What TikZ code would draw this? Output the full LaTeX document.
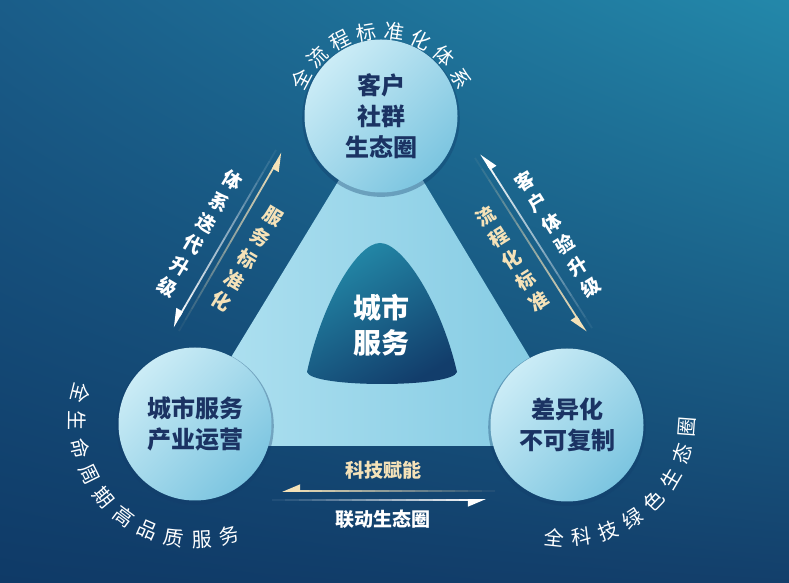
\documentclass[tikz,border=0pt]{standalone}
\usepackage{fontspec}
\setmainfont{Noto Sans CJK SC}
\usepackage{xcolor}
\usepackage{tikz}
\usetikzlibrary{calc,arrows.meta,shadows,shadings}
\definecolor{bgul}{HTML}{1A5D89}
\definecolor{bgur}{HTML}{2388AA}
\definecolor{bgll}{HTML}{0F3A67}
\definecolor{bglr}{HTML}{133F6B}
\definecolor{trilight}{HTML}{B2E2F1}
\definecolor{tridark}{HTML}{80C9E2}
\definecolor{ballhi}{HTML}{CBECF6}
\definecolor{balllo}{HTML}{7CC5E0}
\definecolor{navy}{HTML}{1B3363}
\definecolor{coreteal}{HTML}{2389A8}
\definecolor{corenavy}{HTML}{123D6B}
\definecolor{beige}{HTML}{F5E2B8}
\tikzset{
  ball/.style={circle, minimum size=153pt, inner sep=0pt, shade, top color=ballhi,
    bottom color=balllo, shading angle=45, text=navy, align=center,
    drop shadow={shadow xshift=0pt, shadow yshift=-2pt, shadow scale=1.03, opacity=0.35, fill=corenavy},
    font=\fontsize{24}{31}\selectfont\bfseries},
  core/.style={text=white, align=center, font=\fontsize{28}{35}\selectfont\bfseries},
  side/.style={align=center, inner sep=0pt, font=\fontsize{19}{25}\selectfont\bfseries},
  flat/.style={inner sep=0pt, font=\fontsize{19}{22}\selectfont\bfseries},
  arcch/.style={text=white, inner sep=0pt, font=\fontsize{20}{20}\selectfont}
}
% faded line with a half head at the tip
\newcommand{\glowarrow}[3]{%
  \foreach \i [evaluate=\i as \op using \i/16] in {1,...,15}
    \draw[#3, line width=1.8pt, draw opacity=\op] ($(#1)!{(\i-1)/16}!(#2)$) -- ($(#1)!{\i/16}!(#2)$);
  \draw[#3, line width=1.8pt, -{Triangle[harpoon,swap,length=16pt,width=13pt]}] ($(#1)!{15/16}!(#2)$) -- (#2);
}

\begin{document}
\begin{tikzpicture}[x=1pt,y=1pt]
\useasboundingbox (0,0) rectangle (789,583);
\shade[upper left=bgul, upper right=bgur, lower left=bgll, lower right=bglr] (0,0) rectangle (789,583);

% light triangle
\coordinate (tA) at (381,472);
\coordinate (tB) at (177,137);
\coordinate (tC) at (583,137);
\shade[left color=trilight, right color=tridark] (tA)--(tB)--(tC)--cycle;

% core shape
\shade[top color=coreteal, bottom color=corenavy, shading angle=30]
  (307,211) .. controls (322,280) and (357,340) .. (380,340)
  .. controls (403,340) and (441,280) .. (457,211)
  .. controls (453,195) and (311,195) .. cycle;
\node[core] (core) at (381,258) {城市\\服务};

% circles
\node[ball] (kehu) at (381,467) {客户\\社群\\生态圈};
\node[ball] (chanye) at (195,159) {城市服务\\产业运营};
\node[ball] (chayi) at (567,158) {差异化\\不可复制};

% left side arrows
\coordinate (lw1) at (276,433);
\coordinate (lw2) at (173,256);
\coordinate (lb1) at (179,252);
\coordinate (lb2) at (282,430);
\glowarrow{lw1}{lw2}{white}
\glowarrow{lb1}{lb2}{beige}
\node[side, text=white, rotate=-31] (tixi) at (200,349) {体\\系\\迭\\代\\升\\级};
\node[side, text=beige, rotate=-31] (fuwu) at (247,324) {服\\务\\标\\准\\化};

% right side arrows
\coordinate (rw1) at (592,255);
\coordinate (rw2) at (481,429);
\coordinate (rb1) at (475,425);
\coordinate (rb2) at (586,251);
\glowarrow{rw1}{rw2}{white}
\glowarrow{rb1}{rb2}{beige}
\node[side, text=white, rotate=32] (tiyan) at (558,349) {客\\户\\体\\验\\升\\级};
\node[side, text=beige, rotate=32] (liucheng) at (512,324) {流\\程\\化\\标\\准};

% bottom arrows
\coordinate (bb1) at (495,92);
\coordinate (bb2) at (282,92);
\coordinate (bw1) at (272,83);
\coordinate (bw2) at (486,83);
\glowarrow{bb1}{bb2}{beige}
\glowarrow{bw1}{bw2}{white}
\node[flat, text=beige] (keji) at (383,113) {科技赋能};
\node[flat, text=white] (liandong) at (383,64) {联动生态圈};

% arc texts
\coordinate (topc) at (381,461);
\coordinate (leftc) at (195,161);
\coordinate (rightc) at (567,165);
\foreach \ch [count=\k, evaluate=\k as \a using 152-(\k-1)*17.6] in {全,流,程,标,准,化,体,系}
  \node[arcch, rotate=\a-90] (up\k) at ($(topc)+(\a:91)$) {\ch};
\foreach \ch [count=\k, evaluate=\k as \a using 166+(\k-1)*13.4] in {全,生,命,周,期,高,品,质,服,务}
  \node[arcch, rotate=\a+90] (lo\k) at ($(leftc)+(\a:118)$) {\ch};
\foreach \ch [count=\k, evaluate=\k as \a using 264+(\k-1)*13.1] in {全,科,技,绿,色,生,态,圈}
  \node[arcch, rotate=\a+90] (ro\k) at ($(rightc)+(\a:120)$) {\ch};
\end{tikzpicture}
\end{document}
